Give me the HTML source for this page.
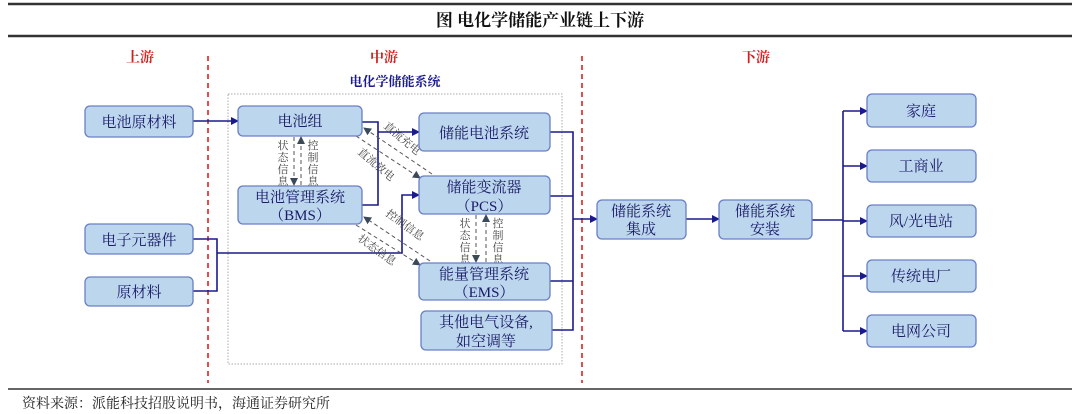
<!DOCTYPE html>
<html><head><meta charset="utf-8"><style>
body{margin:0;background:#fff}
svg{display:block}
text{font-family:"Liberation Serif","Noto Serif CJK SC","Noto Sans CJK SC",serif}
.b{fill:#bcd6ee;stroke:#6a7fc4;stroke-width:1.3}
.t{font-size:15px;fill:#1a1a66;text-anchor:middle}
.l{fill:none;stroke:#1a1a8c;stroke-width:1.6}
.d{fill:none;stroke:#555;stroke-width:1;stroke-dasharray:4 3}
.s{font-size:11px;fill:#444}
</style></head><body>
<svg width="1080" height="414" viewBox="0 0 1080 414">
<defs>
<marker id="a" markerWidth="8" markerHeight="8" refX="7" refY="4" orient="auto" markerUnits="userSpaceOnUse"><path d="M0,0 L8,4 L0,8z" fill="#1a1a8c"/></marker>
<marker id="g" markerWidth="8" markerHeight="8" refX="7" refY="4" orient="auto" markerUnits="userSpaceOnUse"><path d="M0,0 L8,4 L0,8z" fill="#3a4a5a"/></marker>
</defs>
<line x1="8" y1="4" x2="1072" y2="4" stroke="#333" stroke-width="2.5"/>
<line x1="8" y1="36" x2="1072" y2="36" stroke="#333" stroke-width="2.5"/>
<text x="540" y="26" font-size="17" font-weight="bold" text-anchor="middle" fill="#111">图  电化学储能产业链上下游</text>
<text x="140" y="62" font-size="14" font-weight="bold" fill="#d42020" text-anchor="middle">上游</text>
<text x="384" y="62" font-size="14" font-weight="bold" fill="#d42020" text-anchor="middle">中游</text>
<text x="756" y="62" font-size="14" font-weight="bold" fill="#d42020" text-anchor="middle">下游</text>
<line x1="208" y1="56" x2="208" y2="383" stroke="#e02020" stroke-width="1.6" stroke-dasharray="5 4"/>
<line x1="582" y1="56" x2="582" y2="383" stroke="#e02020" stroke-width="1.6" stroke-dasharray="5 4"/>
<rect x="228" y="94" width="334" height="270" fill="none" stroke="#aaa" stroke-width="1" stroke-dasharray="1.5 1.5"/>
<text x="395" y="86" font-size="13" font-weight="bold" fill="#1a1a8c" text-anchor="middle">电化学储能系统</text>

<path class="l" d="M193 121 H238" marker-end="url(#a)"/>
<path class="l" d="M362 122 H378 V205 H362"/>
<path class="l" d="M378 132 H419" marker-end="url(#a)"/>
<path class="l" d="M193 239 H217 V291 H193"/>
<path class="l" d="M217 253 H402 V195 H419" marker-end="url(#a)"/>
<path class="l" d="M550 132 H573 V330 H552 M550 196 H573 M550 281 H573"/>
<path class="l" d="M573 219 H597" marker-end="url(#a)"/>
<path class="l" d="M686 219 H719" marker-end="url(#a)"/>
<path class="l" d="M812 220 H843 M843 111 V331"/>
<path class="l" d="M843 111 H867" marker-end="url(#a)"/>
<path class="l" d="M843 166 H867" marker-end="url(#a)"/>
<path class="l" d="M843 221 H867" marker-end="url(#a)"/>
<path class="l" d="M843 276 H867" marker-end="url(#a)"/>
<path class="l" d="M843 331 H867" marker-end="url(#a)"/>

<path class="d" d="M294 137 V185" marker-end="url(#g)"/>
<path class="d" d="M301 185 V137" marker-end="url(#g)"/>
<path class="d" d="M432 174 L364 128" marker-end="url(#g)"/>
<path class="d" d="M356 136 L420 178" marker-end="url(#g)"/>
<path class="d" d="M430 261 L364 217" marker-end="url(#g)"/>
<path class="d" d="M356 225 L420 265" marker-end="url(#g)"/>
<path class="d" d="M476 215 V262" marker-end="url(#g)"/>
<path class="d" d="M486 262 V215" marker-end="url(#g)"/>
<g class="s" text-anchor="middle">
<text x="283" y="149">状</text><text x="283" y="161">态</text><text x="283" y="173">信</text><text x="283" y="185">息</text>
<text x="313" y="149">控</text><text x="313" y="161">制</text><text x="313" y="173">信</text><text x="313" y="185">息</text>
<text x="465" y="227">状</text><text x="465" y="239">态</text><text x="465" y="251">信</text><text x="465" y="263">息</text>
<text x="498" y="227">控</text><text x="498" y="239">制</text><text x="498" y="251">信</text><text x="498" y="263">息</text>
</g>
<text class="s" transform="translate(383,127) rotate(40)">直流充电</text>
<text class="s" transform="translate(357,153) rotate(40)">直流放电</text>
<text class="s" transform="translate(385,215) rotate(36)">控制信息</text>
<text class="s" transform="translate(357,240) rotate(36)">状态信息</text>

<rect class="b" x="85" y="106" width="108" height="31" rx="5"/><text class="t" x="139" y="127">电池原材料</text>
<rect class="b" x="85" y="224" width="108" height="30" rx="5"/><text class="t" x="139" y="245">电子元器件</text>
<rect class="b" x="85" y="277" width="108" height="29" rx="5"/><text class="t" x="139" y="297">原材料</text>
<rect class="b" x="238" y="106" width="124" height="30" rx="5"/><text class="t" x="300" y="126">电池组</text>
<rect class="b" x="238" y="186" width="124" height="38" rx="5"/><text class="t" x="300" y="202">电池管理系统</text><text class="t" x="300" y="220">（BMS）</text>
<rect class="b" x="419" y="113" width="131" height="38" rx="5"/><text class="t" x="484" y="138">储能电池系统</text>
<rect class="b" x="419" y="176" width="131" height="38" rx="5"/><text class="t" x="484" y="192">储能变流器</text><text class="t" x="484" y="211">（PCS）</text>
<rect class="b" x="419" y="263" width="131" height="37" rx="5"/><text class="t" x="484" y="279">能量管理系统</text><text class="t" x="484" y="297">（EMS）</text>
<rect class="b" x="421" y="311" width="131" height="39" rx="5"/><text class="t" x="486" y="327">其他电气设备,</text><text class="t" x="486" y="346">如空调等</text>
<rect class="b" x="597" y="200" width="89" height="39" rx="5"/><text class="t" x="641" y="216">储能系统</text><text class="t" x="641" y="234">集成</text>
<rect class="b" x="719" y="200" width="93" height="39" rx="5"/><text class="t" x="765" y="216">储能系统</text><text class="t" x="765" y="234">安装</text>
<rect class="b" x="867" y="94" width="109" height="33" rx="5"/><text class="t" x="921" y="116">家庭</text>
<rect class="b" x="867" y="150" width="109" height="32" rx="5"/><text class="t" x="921" y="171">工商业</text>
<rect class="b" x="867" y="205" width="109" height="32" rx="5"/><text class="t" x="921" y="226">风/光电站</text>
<rect class="b" x="867" y="260" width="109" height="32" rx="5"/><text class="t" x="921" y="281">传统电厂</text>
<rect class="b" x="867" y="315" width="109" height="32" rx="5"/><text class="t" x="921" y="336">电网公司</text>

<line x1="8" y1="389" x2="1072" y2="389" stroke="#333" stroke-width="1.5"/>
<text x="22" y="408" font-size="14" fill="#222">资料来源：派能科技招股说明书，海通证券研究所</text>
</svg>
</body></html>
